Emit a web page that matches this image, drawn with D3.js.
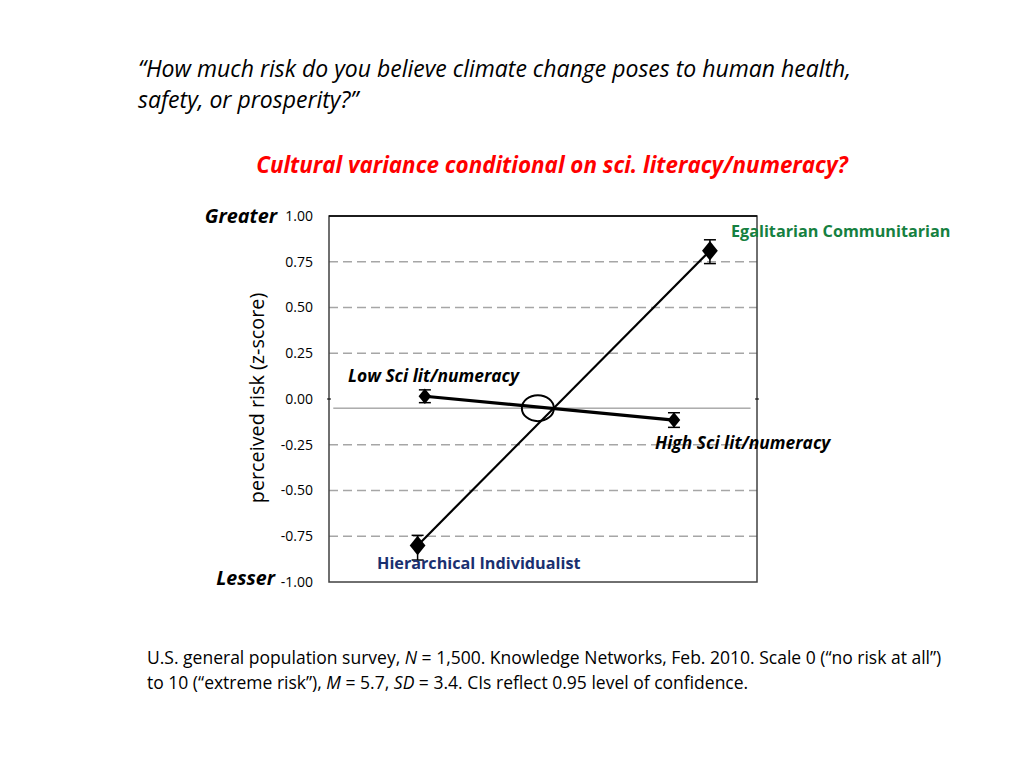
<!DOCTYPE html>
<html>
<head>
<meta charset="utf-8">
<script src="https://cdn.jsdelivr.net/npm/d3@7"></script>
<style>
  body { margin: 0; background: #fff; }
  text { font-family: "Open Sans", Lato, sans-serif; }
</style>
</head>
<body>
<div id="chart"></div>
<script>
// tick values on the y axis
const yTicks = [1.00, 0.75, 0.50, 0.25, 0.00, -0.25, -0.50, -0.75, -1.00]

// science literacy line (low -> high)
const sciGroups = ["Low Sci lit/numeracy", "High Sci lit/numeracy"]
const sciX = [0.224, 0.806]
const sciMean = [0.015, -0.115]
const sciLow = [-0.02, -0.155]
const sciHigh = [0.05, -0.075]

// cultural worldview line (hierarchical -> egalitarian)
const cultGroups = ["Hierarchical Individualist", "Egalitarian Communitarian"]
const cultX = [0.207, 0.89]
const cultMean = [-0.80, 0.81]
const cultLow = [-0.88, 0.74]
const cultHigh = [-0.745, 0.87]

// grand mean reference line and crossing marker
const grandMean = -0.05
const crossX = 0.488

let svg = d3.select("#chart").append("svg")
    .attr("width", 1024)
    .attr("height", 768)

let x = d3.scaleLinear().domain([0, 1]).range([329, 757])
let y = d3.scaleLinear().domain([-1, 1]).range([582, 216])

// titles
svg.append("text").attr("x", 138).attr("y", 77)
    .style("font-style", "italic").style("font-size", "23px")
    .text("\u201cHow much risk do you believe climate change poses to human health,")
svg.append("text").attr("x", 138).attr("y", 108)
    .style("font-style", "italic").style("font-size", "23px")
    .text("safety, or prosperity?\u201d")
svg.append("text").attr("x", 552).attr("y", 173)
    .attr("text-anchor", "middle")
    .attr("fill", "#ff0000")
    .style("font-style", "italic").style("font-weight", "bold").style("font-size", "22.4px")
    .text("Cultural variance conditional on sci. literacy/numeracy?")

// dashed gridlines
svg.selectAll(".grid")
    .data(yTicks.filter(d => d !== 0 && Math.abs(d) !== 1))
    .enter().append("line")
    .attr("class", "grid")
    .attr("x1", x(0)).attr("x2", x(1))
    .attr("y1", d => y(d)).attr("y2", d => y(d))
    .attr("stroke", "#a6a6a6")
    .attr("stroke-width", 1.5)
    .attr("stroke-dasharray", "9,5")

// frame
svg.append("rect")
    .attr("x", x(0)).attr("y", y(1))
    .attr("width", x(1) - x(0)).attr("height", y(-1) - y(1))
    .attr("fill", "none")
    .attr("stroke", "#404040")
    .attr("stroke-width", 1.5)
svg.append("line")
    .attr("x1", x(0)).attr("x2", x(1))
    .attr("y1", y(1)).attr("y2", y(1))
    .attr("stroke", "#000").attr("stroke-width", 1.5)

// y axis labels
let yAxis = d3.axisLeft(y)
    .tickValues(yTicks)
    .tickFormat(d => d3.format(".2f")(d).replace("\u2212", "-"))
    .tickSize(0)
    .tickPadding(16)
svg.append("g")
    .attr("transform", `translate(${x(0)},0)`)
    .call(yAxis)
    .call(g => g.select(".domain").remove())
    .call(g => g.selectAll("text")
        .style("font-family", "'Open Sans', sans-serif")
        .style("font-size", "14px")
        .attr("fill", "#000"))

// tiny tick marks at zero
svg.append("line").attr("x1", x(0) - 2).attr("x2", x(0) + 2)
    .attr("y1", y(0)).attr("y2", y(0)).attr("stroke", "#000")
svg.append("line").attr("x1", x(1) - 2).attr("x2", x(1) + 2)
    .attr("y1", y(0)).attr("y2", y(0)).attr("stroke", "#000")

// grand mean line
svg.append("line")
    .attr("x1", x(0.01)).attr("x2", x(0.985))
    .attr("y1", y(grandMean)).attr("y2", y(grandMean))
    .attr("stroke", "#808080").attr("stroke-width", 1)

svg.append("text").attr("x", 257).attr("y", 398)
    .attr("text-anchor", "middle")
    .attr("transform", "rotate(-90, 257, 398)")
    .attr("dy", "0.35em")
    .style("font-size", "19.8px")
    .text("perceived risk (z-score)")

svg.append("text").attr("x", 277).attr("y", 223)
    .attr("text-anchor", "end")
    .style("font-style", "italic").style("font-weight", "bold").style("font-size", "19.8px")
    .text("Greater")
svg.append("text").attr("x", 275).attr("y", 585)
    .attr("text-anchor", "end")
    .style("font-style", "italic").style("font-weight", "bold").style("font-size", "19.6px")
    .text("Lesser")

// series builder
function drawSeries(xs, means, lows, highs, width) {
    let pts = xs.map((d, i) => ({x: d, m: means[i], lo: lows[i], hi: highs[i]}))
    svg.append("line")
        .attr("x1", x(pts[0].x)).attr("y1", y(pts[0].m))
        .attr("x2", x(pts[1].x)).attr("y2", y(pts[1].m))
        .attr("stroke", "#000").attr("stroke-width", width)
    let g = svg.selectAll(null).data(pts).enter().append("g")
    g.append("line")
        .attr("x1", d => x(d.x)).attr("x2", d => x(d.x))
        .attr("y1", d => y(d.lo)).attr("y2", d => y(d.hi))
        .attr("stroke", "#000").attr("stroke-width", 1.5)
    g.append("line")
        .attr("x1", d => x(d.x) - 6).attr("x2", d => x(d.x) + 6)
        .attr("y1", d => y(d.lo)).attr("y2", d => y(d.lo))
        .attr("stroke", "#000").attr("stroke-width", 1.5)
    g.append("line")
        .attr("x1", d => x(d.x) - 6).attr("x2", d => x(d.x) + 6)
        .attr("y1", d => y(d.hi)).attr("y2", d => y(d.hi))
        .attr("stroke", "#000").attr("stroke-width", 1.5)
    g.append("path")
        .attr("d", d3.symbol().type(d3.symbolDiamond).size(width > 2.5 ? 70 : 110))
        .attr("transform", d => `translate(${x(d.x)},${y(d.m)}) scale(1.4,1)`)
        .attr("fill", "#000")
}

drawSeries(cultX, cultMean, cultLow, cultHigh, 2.2)
drawSeries(sciX, sciMean, sciLow, sciHigh, 3.2)

// circle around crossing point
svg.append("ellipse")
    .attr("cx", x(crossX)).attr("cy", y(grandMean))
    .attr("rx", 16).attr("ry", 13)
    .attr("fill", "none").attr("stroke", "#000").attr("stroke-width", 2)

// series labels
svg.append("text").attr("x", 348).attr("y", 382)
    .style("font-style", "italic").style("font-weight", "bold").style("font-size", "17.4px")
    .text(sciGroups[0])
svg.append("text").attr("x", 655).attr("y", 449)
    .style("font-style", "italic").style("font-weight", "bold").style("font-size", "17.4px")
    .text(sciGroups[1])
svg.append("text").attr("x", 731).attr("y", 237)
    .attr("fill", "#158040")
    .style("font-weight", "bold").style("font-size", "16.2px")
    .text(cultGroups[1])
svg.append("text").attr("x", 377).attr("y", 569)
    .attr("fill", "#1a3070")
    .style("font-weight", "bold").style("font-size", "16.2px")
    .text(cultGroups[0])

// footnote
let foot1 = svg.append("text").attr("x", 147).attr("y", 664).style("font-size", "17.5px")
foot1.append("tspan").text("U.S. general population survey, ")
foot1.append("tspan").style("font-style", "italic").text("N")
foot1.append("tspan").text(" = 1,500. Knowledge Networks, Feb. 2010. Scale 0 (\u201cno risk at all\u201d)")
let foot2 = svg.append("text").attr("x", 147).attr("y", 689).style("font-size", "17.5px")
foot2.append("tspan").text("to 10 (\u201cextreme risk\u201d), ")
foot2.append("tspan").style("font-style", "italic").text("M")
foot2.append("tspan").text(" = 5.7, ")
foot2.append("tspan").style("font-style", "italic").text("SD")
foot2.append("tspan").text(" = 3.4. CIs reflect 0.95 level of confidence.")
</script>
</body>
</html>
